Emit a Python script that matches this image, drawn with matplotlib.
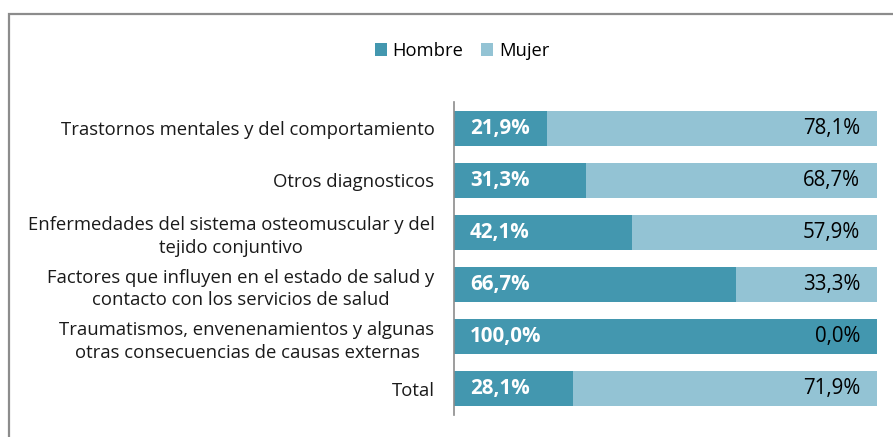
import matplotlib
matplotlib.use("Agg")
import matplotlib.pyplot as plt
from matplotlib.patches import Rectangle

categories = [
    "Trastornos mentales y del comportamiento",
    "Otros diagnosticos",
    "Enfermedades del sistema osteomuscular y del\ntejido conjuntivo",
    "Factores que influyen en el estado de salud y\ncontacto con los servicios de salud",
    "Traumatismos, envenenamientos y algunas\notras consecuencias de causas externas",
    "Total",
]
hombre = [21.9, 31.3, 42.1, 66.7, 100.0, 28.1]
mujer = [78.1, 68.7, 57.9, 33.3, 0.0, 71.9]
series_names = ["Hombre", "Mujer"]

c_h = "#4397AF"
c_m = "#93C3D4"
font = ["Open Sans", "DejaVu Sans"]
plt.rcParams["font.family"] = font

W, H = 893, 437
fig = plt.figure(figsize=(W / 100, H / 100), dpi=100)
ax = fig.add_axes([454 / W, 1 - 415 / H, (877 - 454) / W, (415 - 102) / H])

y = list(range(len(categories)))
bh = 0.67
ax.barh(y, hombre, height=bh, color=c_h, label=series_names[0])
ax.barh(y, mujer, left=hombre, height=bh, color=c_m, label=series_names[1])
ax.set_xlim(0, 100)
ax.set_ylim(len(categories) - 0.5, -0.5)

for i in y:
    ax.annotate(f"{hombre[i]:.1f}%".replace(".", ","), (0, i), xytext=(11.5, 0),
                textcoords="offset points", ha="left", va="center",
                color="white", fontweight="bold", fontsize=14.8)
    ax.annotate(f"{mujer[i]:.1f}%".replace(".", ","), (100, i), xytext=(-12, 0),
                textcoords="offset points", ha="right", va="center",
                color="black", fontsize=14.8)

ax.set_yticks(y)
ax.set_yticklabels(categories, fontsize=13.3, multialignment="center", color="#1a1a1a",
                   linespacing=1.35)
ax.tick_params(axis="y", length=0, pad=14)
ax.set_xticks([])
for s in ["top", "right", "bottom"]:
    ax.spines[s].set_visible(False)
ax.spines["left"].set_color("#8c8c8c")
ax.spines["left"].set_linewidth(1.2)

leg = fig.legend(loc="center", bbox_to_anchor=(462 / W, 1 - 51 / H), ncol=2,
                 frameon=False, fontsize=13.2, handlelength=0.65, handleheight=0.65,
                 handletextpad=0.3, columnspacing=1.0)

fig.patches.append(Rectangle((8.5 / W, -0.1), 1.2, 1 - 14.5 / H + 0.1,
                             transform=fig.transFigure, fill=False,
                             edgecolor="#8c8c8c", linewidth=1.6))
fig.savefig("out.png", dpi=100)
